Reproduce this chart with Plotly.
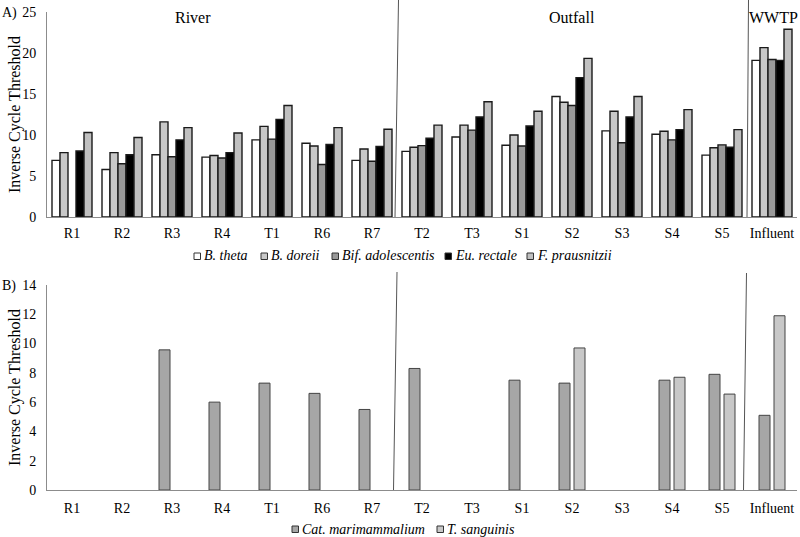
import plotly.graph_objects as go

categories = ["R1", "R2", "R3", "R4", "T1", "R6", "R7", "T2", "T3", "S1", "S2", "S3", "S4", "S5", "Influent"]

b_theta = [6.9, 5.8, 7.6, 7.3, 9.4, 9.0, 6.9, 8.0, 9.75, 8.75, 14.7, 10.5, 10.1, 7.55, 19.1]
b_doreii = [7.85, 7.85, 11.6, 7.5, 11.05, 8.65, 8.3, 8.5, 11.2, 10.0, 14.0, 12.9, 10.45, 8.45, 20.65]
bif_adol = [None, 6.5, 7.35, 7.2, 9.5, 6.4, 6.8, 8.7, 10.6, 8.65, 13.6, 9.05, 9.4, 8.8, 19.2]
eu_rectale = [8.05, 7.6, 9.4, 7.85, 11.9, 8.85, 8.6, 9.6, 12.2, 11.1, 17.0, 12.2, 10.65, 8.5, 19.1]
f_praus = [10.3, 9.7, 10.9, 10.25, 13.6, 10.9, 10.7, 11.2, 14.05, 12.9, 19.35, 14.7, 13.1, 10.65, 22.9]

cat_mari = [None, None, 9.57, 6.0, 7.3, 6.6, 5.5, 8.3, None, 7.5, 7.3, None, 7.5, 7.9, 5.1]
t_sang = [None, None, None, None, None, None, None, None, None, None, 9.7, None, 7.7, 6.55, 11.9]

top_names = ["B. theta", "B. doreii", "Bif. adolescentis", "Eu. rectale", "F. prausnitzii"]
top_series = [b_theta, b_doreii, bif_adol, eu_rectale, f_praus]
top_colors = ["#ffffff", "#c8c8c8", "#999999", "#000000", "#c0c0c0"]

bot_names = ["Cat. marimammalium", "T. sanguinis"]
bot_series = [cat_mari, t_sang]
bot_colors = ["#a6a6a6", "#c8c8c8"]

y_title = "Inverse Cycle Threshold"

FONT = "Liberation Serif, Times New Roman, serif"
W, H = 800, 537
L, PW = 47, 750

def py(px):
    return 1 - px / H

def pxx(px):
    return (px - L) / PW

fig = go.Figure()
for name, vals, col in zip(top_names, top_series, top_colors):
    fig.add_trace(go.Bar(
        x=categories, y=vals, name=name,
        marker=dict(color=col, line=dict(color="#1a1a1a", width=1.4)),
        xaxis="x", yaxis="y", showlegend=False,
    ))

offsets = [-0.26, 0.04]
for name, vals, col, off in zip(bot_names, bot_series, bot_colors, offsets):
    fig.add_trace(go.Bar(
        x=categories, y=vals, name=name,
        marker=dict(color=col, line=dict(color="#444444", width=1)),
        width=0.22, offset=off,
        xaxis="x2", yaxis="y2", showlegend=False,
    ))

axis_common = dict(
    showline=True, linecolor="#8c8c8c", linewidth=1, showgrid=False, zeroline=False,
    tickfont=dict(family=FONT, size=14, color="#000"),
    ticks="", automargin=False,
)

fig.update_layout(
    template="none",
    width=W, height=H,
    margin=dict(l=L, r=W - L - PW, t=0, b=0, autoexpand=False),
    paper_bgcolor="white", plot_bgcolor="white",
    barmode="group", bargap=0.2, bargroupgap=0,
    font=dict(family=FONT, color="#000"),
    xaxis=dict(axis_common, anchor="y", range=[-0.5, 14.5], ticklabelstandoff=3, type="category"),
    yaxis=dict(axis_common, domain=[py(217), py(12)], range=[0, 25], dtick=5, ticklabelstandoff=7),
    xaxis2=dict(axis_common, anchor="y2", range=[-0.5, 14.5], ticklabelstandoff=5, type="category"),
    yaxis2=dict(axis_common, domain=[py(490), py(285)], range=[0, 14], dtick=2, ticklabelstandoff=7),
    showlegend=False,
)

# y-axis titles
for ycen in [115, 388]:
    fig.add_annotation(text=y_title, xref="paper", yref="paper", x=pxx(15), y=py(ycen),
                       textangle=-90, showarrow=False, xanchor="center", yanchor="middle",
                       font=dict(family=FONT, size=16))

# divider lines between site groups
dividers = [
    ("x", 6.53, py(0), 6.46, py(217)),
    ("x", 13.53, py(0), 13.50, py(217)),
    ("x2", 6.50, py(272), 6.43, py(490)),
    ("x2", 13.49, py(273), 13.43, py(490)),
]
for xr, x0, y0, x1, y1 in dividers:
    fig.add_shape(type="line", xref=xr, yref="paper", x0=x0, y0=y0, x1=x1, y1=y1,
                  line=dict(color="#555555", width=1))

labels = [("River", 193, 18, "center"), ("Outfall", 572, 18, "center"), ("WWTP", 800, 18, "right")]
for t, xpx, ypx, anc in labels:
    fig.add_annotation(text=t, xref="paper", yref="paper", x=pxx(xpx), y=py(ypx),
                       showarrow=False, font=dict(family=FONT, size=16), xanchor=anc, yanchor="middle")

for t, ypx in [("A)", 13), ("B)", 286)]:
    fig.add_annotation(text=t, xref="paper", yref="paper", x=pxx(0), y=py(ypx),
                       showarrow=False, font=dict(family=FONT, size=14), xanchor="left", yanchor="middle")

# legends (compact, as in the reference)
top_leg_x = [194, 261, 332, 445, 527]
bot_leg_x = [292, 437]
def add_legend(names, colors, xs, ycen):
    for name, col, x in zip(names, colors, xs):
        fig.add_shape(type="rect", xref="paper", yref="paper",
                      x0=pxx(x), x1=pxx(x + 6.5), y0=py(ycen + 3.5), y1=py(ycen - 3),
                      fillcolor=col, line=dict(color="#333333", width=1))
        fig.add_annotation(text=f"<i>{name}</i>", xref="paper", yref="paper",
                           x=pxx(x + 8), y=py(ycen), showarrow=False, xanchor="left", yanchor="middle",
                           font=dict(family=FONT, size=14))

add_legend(top_names, top_colors, top_leg_x, 256)
add_legend(bot_names, bot_colors, bot_leg_x, 529)

fig.write_html("out.html", config={"displayModeBar": False},
               post_script="document.body.style.margin='0';document.body.style.overflow='hidden';")
